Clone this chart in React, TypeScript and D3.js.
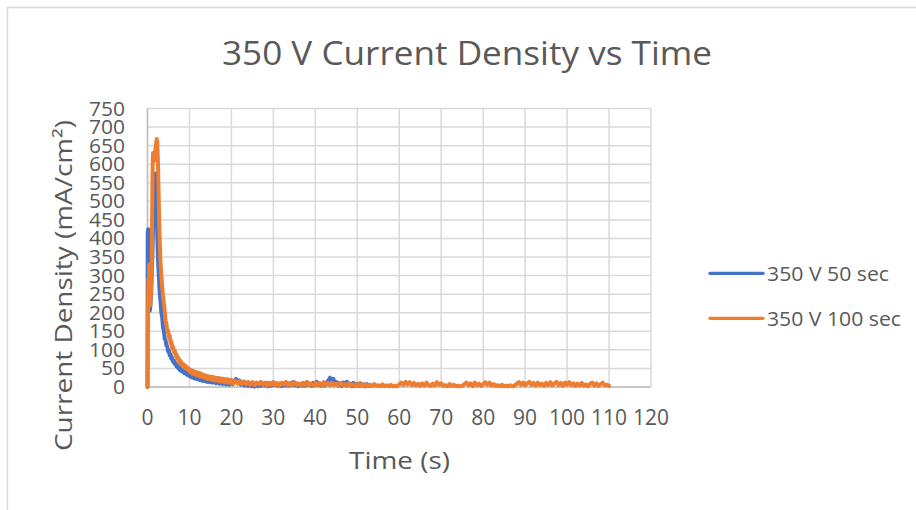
import React from "react";
import * as d3 from "d3";

// Current density (mA/cm²) over time (s) for two anodizing runs at 350 V
const run50: [number, number][] = [
  [0, 0], [0.05, 415], [0.15, 425], [0.25, 400], [0.35, 310], [0.45, 230], [0.55, 205], [0.7, 220],
  [0.85, 260], [1.0, 300], [1.15, 350], [1.3, 420], [1.45, 480], [1.6, 530], [1.75, 565], [1.9, 575],
  [2.05, 540], [2.2, 470], [2.35, 400], [2.5, 345], [2.7, 300], [2.9, 255], [3.1, 232], [3.3, 200],
  [3.5, 188], [3.7, 160], [3.9, 152], [4.1, 130], [4.3, 127], [4.5, 112], [4.7, 110], [4.9, 96],
  [5.1, 98], [5.3, 85], [5.5, 88], [5.7, 76], [5.9, 78], [6.1, 68], [6.3, 71], [6.5, 62], [6.7, 64],
  [6.9, 56], [7.1, 58], [7.3, 51], [7.5, 54], [7.7, 46], [7.9, 49], [8.2, 42], [8.5, 45], [8.8, 37],
  [9.1, 40], [9.4, 33], [9.7, 36], [10, 29], [10.3, 33], [10.6, 26], [10.9, 30], [11.2, 23], [11.5, 28],
  [11.8, 21], [12.1, 26], [12.4, 19], [12.7, 24], [13, 17], [13.3, 23], [13.6, 16], [13.9, 21],
  [14.2, 14], [14.5, 20], [14.8, 13], [15.1, 19], [15.5, 12], [15.9, 18], [16.3, 10], [16.7, 17],
  [17.1, 9], [17.5, 16], [17.9, 8], [18.3, 15], [18.7, 7], [19.1, 14], [19.5, 6], [19.9, 13],
  [20.3, 8], [20.7, 15], [21.1, 22], [21.5, 12], [21.9, 18], [22.3, 6], [22.7, 12], [23.1, 4],
  [23.5, 10], [23.9, 3], [24.3, 9], [24.7, 2], [25.1, 8], [25.5, 1], [25.9, 7], [26.3, 2], [26.7, 9],
  [27.1, 3], [27.5, 10], [27.9, 4], [28.3, 11], [28.7, 2], [29.1, 8], [29.5, 3], [29.9, 12], [30.3, 5],
  [30.7, 10], [31.1, 3], [31.5, 9], [31.9, 2], [32.3, 8], [32.7, 4], [33.1, 11], [33.5, 3], [33.9, 10],
  [34.3, 5], [34.7, 13], [35.1, 4], [35.5, 9], [35.9, 2], [36.3, 8], [36.7, 3], [37.1, 10], [37.5, 4],
  [37.9, 12], [38.3, 5], [38.7, 9], [39.1, 3], [39.5, 11], [39.9, 6], [40.3, 14], [40.7, 5], [41.1, 10],
  [41.5, 3], [41.9, 9], [42.3, 4], [42.7, 12], [43.1, 17], [43.5, 25], [43.9, 14], [44.3, 22], [44.7, 8],
  [45.1, 13], [45.5, 4], [45.9, 10], [46.3, 3], [46.7, 12], [47.1, 6], [47.5, 14], [47.9, 5], [48.3, 9],
  [48.7, 2], [49.1, 11], [49.5, 4], [49.9, 8], [50.3, 3], [50.7, 10], [51.1, 4], [51.5, 7], [51.9, 2],
  [52.3, 8], [52.7, 3], [53, 6],
];

const run100: [number, number][] = [
  [0, 0], [0.1, 180], [0.2, 290], [0.3, 240], [0.4, 330], [0.5, 260], [0.6, 300], [0.7, 220],
  [0.8, 280], [0.9, 250], [1.0, 330], [1.1, 450], [1.2, 580], [1.3, 630], [1.45, 615], [1.6, 625],
  [1.75, 610], [1.9, 640], [2.05, 655], [2.2, 668], [2.35, 655], [2.5, 600], [2.65, 520], [2.8, 440],
  [2.95, 380], [3.1, 335], [3.3, 300], [3.5, 270], [3.7, 245], [3.9, 225], [4.1, 205], [4.3, 178],
  [4.5, 172], [4.7, 150], [4.9, 152], [5.1, 134], [5.3, 138], [5.5, 118], [5.7, 122], [5.9, 104],
  [6.1, 108], [6.3, 94], [6.5, 98], [6.7, 84], [6.9, 88], [7.1, 76], [7.3, 80], [7.5, 68], [7.7, 73],
  [7.9, 62], [8.1, 67], [8.3, 57], [8.6, 61], [8.9, 52], [9.2, 56], [9.5, 46], [9.8, 50], [10.1, 40],
  [10.4, 46], [10.7, 36], [11, 43], [11.3, 33], [11.6, 40], [11.9, 31], [12.2, 38], [12.5, 28],
  [12.8, 36], [13.1, 27], [13.4, 33], [13.7, 24], [14, 31], [14.3, 22], [14.6, 29], [14.9, 21],
  [15.2, 28], [15.5, 19], [15.8, 27], [16.1, 18], [16.4, 25], [16.7, 17], [17, 24], [17.3, 15],
  [17.6, 23], [17.9, 14], [18.2, 22], [18.5, 13], [18.8, 21], [19.1, 12], [19.4, 20], [19.7, 11],
  [20, 19], [20.5, 10], [21, 17], [21.5, 9], [22, 16], [22.5, 8], [23, 15], [23.5, 7], [24, 14],
  [24.5, 6], [25, 13], [25.5, 5], [26, 12], [26.5, 7], [27, 14], [27.5, 6], [28, 11], [28.5, 4],
  [29, 12], [29.5, 6], [30, 13], [30.5, 5], [31, 10], [31.5, 4], [32, 12], [32.5, 7], [33, 14],
  [33.5, 5], [34, 11], [34.5, 4], [35, 13], [35.5, 6], [36, 10], [36.5, 3], [37, 11], [37.5, 6],
  [38, 14], [38.5, 5], [39, 9], [39.5, 3], [40, 12], [40.5, 5], [41, 10], [41.5, 4], [42, 13],
  [42.5, 6], [43, 11], [43.5, 4], [44, 12], [44.5, 5], [45, 9], [45.5, 3], [46, 11], [46.5, 5],
  [47, 8], [47.5, 3], [48, 10], [48.5, 4], [49, 7], [49.5, 2], [50, 9], [50.5, 3], [51, 8], [51.5, 2],
  [52, 7], [52.5, 3], [53, 6], [53.5, 2], [54, 8], [54.5, 3], [55, 5], [55.5, 2], [56, 7], [56.5, 2],
  [57, 5], [57.5, 2], [58, 6], [58.5, 2], [59, 4], [59.5, 2], [60, 7], [60.5, 12], [61, 6], [61.5, 14],
  [62, 7], [62.5, 13], [63, 5], [63.5, 11], [64, 4], [64.5, 9], [65, 3], [65.5, 10], [66, 4],
  [66.5, 12], [67, 5], [67.5, 3], [68, 9], [68.5, 4], [69, 13], [69.5, 6], [70, 10], [70.5, 3],
  [71, 5], [71.5, 2], [72, 8], [72.5, 3], [73, 6], [73.5, 2], [74, 4], [74.5, 2], [75, 3], [75.5, 8],
  [76, 12], [76.5, 5], [77, 10], [77.5, 3], [78, 12], [78.5, 5], [79, 9], [79.5, 3], [80, 7],
  [80.5, 13], [81, 6], [81.5, 12], [82, 4], [82.5, 8], [83, 3], [83.5, 5], [84, 2], [84.5, 6], [85, 2],
  [85.5, 4], [86, 2], [86.5, 5], [87, 2], [87.5, 4], [88, 9], [88.5, 13], [89, 6], [89.5, 12], [90, 5],
  [90.5, 10], [91, 14], [91.5, 6], [92, 11], [92.5, 4], [93, 12], [93.5, 5], [94, 9], [94.5, 3],
  [95, 11], [95.5, 5], [96, 13], [96.5, 4], [97, 10], [97.5, 14], [98, 5], [98.5, 11], [99, 3],
  [99.5, 12], [100, 6], [100.5, 13], [101, 5], [101.5, 10], [102, 3], [102.5, 9], [103, 4], [103.5, 11],
  [104, 3], [104.5, 7], [105, 2], [105.5, 9], [106, 12], [106.5, 4], [107, 10], [107.5, 3], [108, 8],
  [108.5, 12], [109, 4], [109.5, 6], [110, 3],
];

const seriesNames = ["350 V 50 sec", "350 V 100 sec"];
const seriesColors = ["#4472C4", "#ED7D31"];
const xTicks = [0, 10, 20, 30, 40, 50, 60, 70, 80, 90, 100, 110, 120];
const yTicks = [0, 50, 100, 150, 200, 250, 300, 350, 400, 450, 500, 550, 600, 650, 700, 750];

const W = 916;
const H = 510;
const FONT = "'Open Sans', sans-serif";
const TEXT = "#595959";
const GRID = "#d9d9d9";

export default function App() {
  const x = d3.scaleLinear().domain([0, 120]).range([147.5, 651]);
  const y = d3.scaleLinear().domain([0, 750]).range([387, 108.5]);
  const line = d3
    .line<[number, number]>()
    .x((d) => x(d[0]))
    .y((d) => y(d[1]));
  const series = [run50, run100];

  return (
    <svg
      width={W}
      height={H}
      style={{ position: "absolute", left: 0, top: 0, background: "#fff" }}
      fontFamily={FONT}
    >
      <rect x={0} y={0} width={W} height={H} fill="#fff" />
      <rect x={7.5} y={7.5} width={W + 20} height={H + 20} fill="none" stroke={GRID} strokeWidth={1.5} />

      <text x={467} y={65} textAnchor="middle" fontSize={33} fill={TEXT} textLength={490} lengthAdjust="spacingAndGlyphs">
        350 V Current Density vs Time
      </text>

      {/* grid */}
      {yTicks.map((t) => (
        <line key={"gy" + t} x1={x(0)} x2={x(120)} y1={y(t)} y2={y(t)} stroke={GRID} strokeWidth={1.5} />
      ))}
      {xTicks.map((t) => (
        <line key={"gx" + t} x1={x(t)} x2={x(t)} y1={y(0)} y2={y(750)} stroke={GRID} strokeWidth={1.5} />
      ))}
      <line x1={x(0)} x2={x(0)} y1={y(0)} y2={y(750)} stroke="#bfbfbf" strokeWidth={1.5} />
      <line x1={x(0)} x2={x(120)} y1={y(0)} y2={y(0)} stroke="#bfbfbf" strokeWidth={1.5} />

      {/* tick labels */}
      {yTicks.map((t) => (
        <text key={"ty" + t} x={125} y={y(t) + 7} textAnchor="end" fontSize={20} fill={TEXT} textLength={t >= 100 ? 36 : t > 0 ? 24 : 12} lengthAdjust="spacingAndGlyphs">
          {t}
        </text>
      ))}
      {xTicks.map((t) => (
        <text key={"tx" + t} x={x(t)} y={425} textAnchor="middle" fontSize={21} fill={TEXT}>
          {t}
        </text>
      ))}

      {/* axis titles */}
      <text
        transform={`translate(72, ${285.5}) rotate(-90)`}
        textAnchor="middle"
        fontSize={24}
        fill={TEXT}
        textLength={331}
        lengthAdjust="spacingAndGlyphs"
      >
        Current Density (mA/cm²)
      </text>
      <text x={399.5} y={469} textAnchor="middle" fontSize={24} fill={TEXT} textLength={101} lengthAdjust="spacingAndGlyphs">
        Time (s)
      </text>

      {/* series */}
      {series.map((s, i) => (
        <path
          key={"s" + i}
          d={line(s) || ""}
          fill="none"
          stroke={seriesColors[i]}
          strokeWidth={4}
          strokeLinejoin="round"
          strokeLinecap="round"
        />
      ))}

      {/* legend */}
      {seriesNames.map((n, i) => (
        <g key={"lg" + i} transform={`translate(0, ${i * 45})`}>
          <line x1={710} x2={763} y1={273.3} y2={273.3} stroke={seriesColors[i]} strokeWidth={3.3} strokeLinecap="round" />
          <text x={767} y={281} fontSize={20} fill={TEXT} textLength={i === 0 ? 122 : 134} lengthAdjust="spacingAndGlyphs">
            {n}
          </text>
        </g>
      ))}
    </svg>
  );
}
